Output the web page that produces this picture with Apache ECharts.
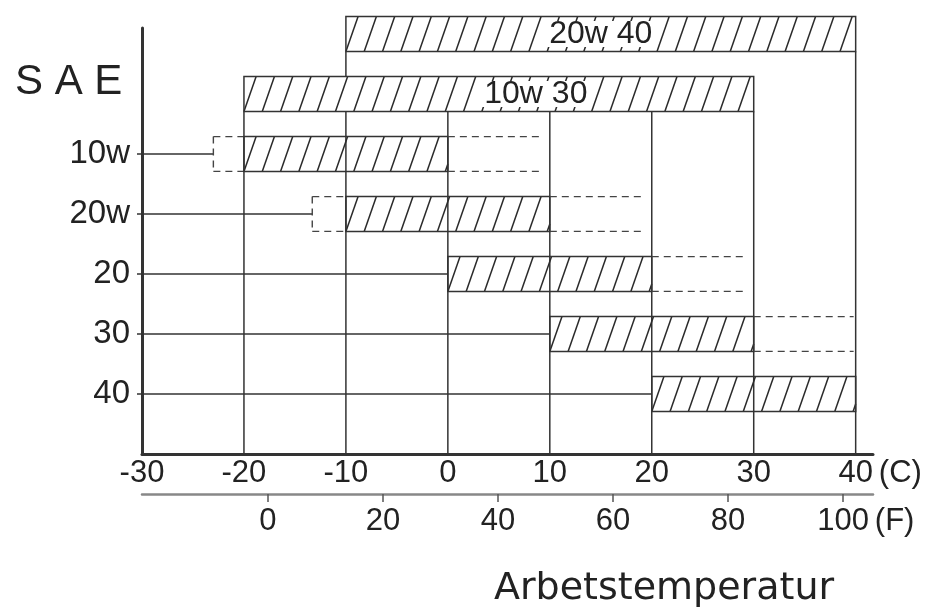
<!DOCTYPE html>
<html>
<head>
<meta charset="utf-8">
<script src="https://cdn.jsdelivr.net/npm/echarts@6.0.0/dist/echarts.min.js"></script>
<style>
  html, body { margin: 0; padding: 0; background: #fff; }
  #chart { width: 931px; height: 610px; }
</style>
</head>
<body>
<div id="chart"></div>
<script>
// ---- data ----
const multiGrades = ['20w 40', '10w 30'];
const multiLow = [-10, -20];
const multiHigh = [40, 30];

const singleGrades = ['10w', '20w', '20', '30', '40'];
const singleLow = [-20, -10, 0, 10, 20];
const singleHigh = [0, 10, 20, 30, 40];
const extLow = [-23, -13.3, null, null, null];
const extHigh = [9.4, 19.4, 29.2, 39.8, null];

const celsiusTicks = [-30, -20, -10, 0, 10, 20, 30, 40];
const fahrenheitTicks = [0, 20, 40, 60, 80, 100];

const gridTemps = [-20, -10, 0, 10, 20, 30, 40];
const gridReachRow = [1, 0, 1, 1, 1, 1, 0];

// ---- drawing helpers ----
const FONT = '"Liberation Sans", Arial, sans-serif';
const INK = '#333';
const HALF = 0.29;          // half bar thickness, in row units
const ROW_MAX = 7;
const C_MIN = celsiusTicks[0];
const HATCH_SP = 18.3;
const HATCH_SLANT = 0.35;
const labelNudge = { '10w 30': 37 };

const solid = { stroke: INK, lineWidth: 1.5, fill: null };
const dashed = { stroke: '#444', lineWidth: 1.4, lineDash: [7, 5], fill: null };
const hatchStyle = { stroke: '#2a2a2a', lineWidth: 1.5 };

function line(x1, y1, x2, y2, style) {
  return { type: 'line', shape: { x1, y1, x2, y2 }, style };
}

function hatch(L, R, T, B, out) {
  const h = B - T, dx = h * HATCH_SLANT;
  for (let xb = L - Math.ceil(dx / HATCH_SP) * HATCH_SP; xb <= R; xb += HATCH_SP) {
    const t0 = Math.max(0, (L - xb) / dx), t1 = Math.min(1, (R - xb) / dx);
    if (t1 > t0) out.push(line(xb + dx * t0, B - h * t0, xb + dx * t1, B - h * t1, hatchStyle));
  }
}

const chart = echarts.init(document.getElementById('chart'), null, { renderer: 'canvas' });

const option = {
  animation: false,
  backgroundColor: '#fff',
  title: [
    { text: 'S A E', left: 10, top: 56,
      textStyle: { fontFamily: FONT, fontSize: 42, fontWeight: 'normal', color: '#222' } },
    { text: 'Arbetstemperatur', left: 489, top: 565,
      textStyle: { fontFamily: '"DejaVu Sans", sans-serif', fontSize: 38, fontWeight: 'normal', color: '#222' } }
  ],
  grid: { left: 142, right: 58, top: 28, bottom: 156 },
  xAxis: [
    {
      type: 'value', min: C_MIN, max: 41.7, position: 'bottom',
      axisLine: { show: true, onZero: false, lineStyle: { color: INK, width: 3 } },
      axisTick: { show: false },
      splitLine: { show: false },
      axisLabel: { customValues: celsiusTicks, fontFamily: FONT, fontSize: 31, color: '#222', margin: 4 },
      name: '(C)', nameLocation: 'end', nameGap: 2,
      nameTextStyle: { fontFamily: FONT, fontSize: 31, color: '#222', verticalAlign: 'top', padding: [4, 0, 0, 0] }
    },
    {
      type: 'value', min: -21.9, max: 105.2, position: 'bottom', offset: 40,
      axisLine: { show: true, onZero: false, lineStyle: { color: '#888', width: 2.5 } },
      axisTick: { show: true, customValues: fahrenheitTicks, length: 8, lineStyle: { color: '#555', width: 1.5 } },
      splitLine: { show: false },
      axisLabel: { customValues: fahrenheitTicks, fontFamily: FONT, fontSize: 31, color: '#222', margin: 12 },
      name: '(F)', nameLocation: 'end', nameGap: -8,
      nameTextStyle: { fontFamily: FONT, fontSize: 31, color: '#222', verticalAlign: 'top', padding: [12, 0, 0, 0] }
    }
  ],
  yAxis: {
    type: 'value', inverse: true, min: -0.1, max: ROW_MAX,
    axisLine: { show: true, onZero: false, lineStyle: { color: INK, width: 3 } },
    axisTick: { show: true, customValues: singleGrades.map((_, i) => multiGrades.length + i), length: 5,
                lineStyle: { color: INK, width: 1.5 } },
    splitLine: { show: false },
    axisLabel: {
      customValues: singleGrades.map((_, i) => multiGrades.length + i),
      formatter: v => singleGrades[Math.round(v) - multiGrades.length],
      fontFamily: FONT, fontSize: 33, color: '#222', margin: 12
    }
  },
  series: [
    {
      name: 'grid', type: 'custom', z: 2, xAxisIndex: 0,
      data: gridTemps.map((t, i) => [t, gridReachRow[i]]),
      encode: { x: 0, y: 1 },
      renderItem: (params, api) => {
        const i = params.dataIndex;
        const p1 = api.coord([gridTemps[i], ROW_MAX]);
        const p2 = api.coord([gridTemps[i], gridReachRow[i] + HALF]);
        return line(p1[0], p1[1], p2[0], p2[1], solid);
      }
    },
    {
      name: 'multigrade', type: 'custom', z: 3, xAxisIndex: 0,
      data: multiGrades.map((g, i) => [multiLow[i], multiHigh[i], i]),
      encode: { x: [0, 1], y: 2 },
      renderItem: (params, api) => {
        const i = params.dataIndex;
        const row = i;
        const a = api.coord([multiLow[i], row - HALF]);
        const b = api.coord([multiHigh[i], row + HALF]);
        const L = a[0], T = a[1], R = b[0], B = b[1];
        const children = [];
        children.push({ type: 'rect', shape: { x: L, y: T, width: R - L, height: B - T }, style: { fill: '#fff' } });
        hatch(L, R, T, B, children);
        children.push({ type: 'rect', shape: { x: L, y: T, width: R - L, height: B - T }, style: solid });
        children.push({
          type: 'text', z2: 10,
          style: {
            text: multiGrades[i], x: (L + R) / 2 + (labelNudge[multiGrades[i]] || 0), y: (T + B) / 2,
            align: 'center', verticalAlign: 'middle',
            fontFamily: FONT, fontSize: 32, fill: '#222',
            backgroundColor: '#fff', padding: [0, 3], lineHeight: 26
          }
        });
        return { type: 'group', children };
      }
    },
    {
      name: 'single', type: 'custom', z: 4, xAxisIndex: 0,
      data: singleGrades.map((g, i) => [singleLow[i], singleHigh[i], multiGrades.length + i]),
      encode: { x: [0, 1], y: 2 },
      renderItem: (params, api) => {
        const i = params.dataIndex;
        const row = multiGrades.length + i;
        const yc = api.coord([0, row])[1];
        const T = api.coord([0, row - HALF])[1];
        const B = api.coord([0, row + HALF])[1];
        const xAxis0 = api.coord([C_MIN, row])[0];
        const L = api.coord([singleLow[i], row])[0];
        const R = api.coord([singleHigh[i], row])[0];
        const children = [];
        const start = extLow[i] != null ? api.coord([extLow[i], row])[0] : L;
        children.push(line(xAxis0, yc, start, yc, solid));
        if (extLow[i] != null) {
          children.push(line(start, T, L, T, dashed));
          children.push(line(start, B, L, B, dashed));
          children.push(line(start, T, start, B, dashed));
        }
        hatch(L, R, T, B, children);
        children.push({ type: 'rect', shape: { x: L, y: T, width: R - L, height: B - T }, style: solid });
        if (extHigh[i] != null) {
          const E = api.coord([extHigh[i], row])[0];
          children.push(line(R, T, E, T, dashed));
          children.push(line(R, B, E, B, dashed));
        }
        return { type: 'group', children };
      }
    }
  ]
};

chart.setOption(option);
</script>
</body>
</html>
